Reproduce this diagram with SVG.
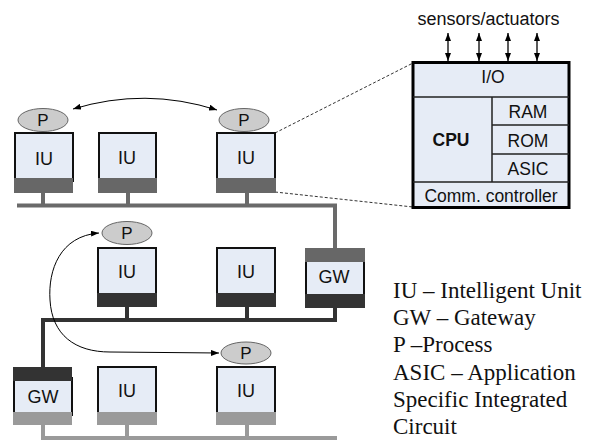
<svg xmlns="http://www.w3.org/2000/svg" width="591" height="441" viewBox="0 0 591 441">
<style>
.lt{fill:#e6ecf6;stroke:#111;stroke-width:2}
.b1{fill:#676767}
.b2{fill:#333}
.b3{fill:#9a9a9a}
.p{fill:#cccccc;stroke:#666;stroke-width:1}
.t{font-family:"Liberation Sans",Arial,sans-serif;font-size:18px;fill:#111;text-anchor:middle}
.pt{font-family:"Liberation Sans",Arial,sans-serif;font-size:17px;fill:#111;text-anchor:middle}
.bx{font-family:"Liberation Sans",Arial,sans-serif;font-size:17.5px;fill:#111;text-anchor:middle}
.lg{font-family:"Liberation Serif","Times New Roman",serif;font-size:23px;fill:#111}
.bus1{stroke:#6a6a6a;stroke-width:4;fill:none}
.bus2{stroke:#333;stroke-width:4;fill:none}
.bus3{stroke:#9a9a9a;stroke-width:4;fill:none}
.arr{stroke:#000;stroke-width:1;fill:none;marker-start:url(#ah);marker-end:url(#ah)}
.sa{stroke:#000;stroke-width:1.3;fill:none;marker-start:url(#ah);marker-end:url(#ah)}
.dash{stroke:#333;stroke-width:1;stroke-dasharray:3,2;fill:none}
.cell{stroke:#222;stroke-width:1.5;fill:none}
</style>
<defs>
<marker id="ah" viewBox="0 0 10 10" refX="10" refY="5" markerWidth="8" markerHeight="6" markerUnits="userSpaceOnUse" preserveAspectRatio="none" orient="auto-start-reverse"><path d="M0,0 L10,5 L0,10 z" fill="#000"/></marker>
</defs>

<g id="connectors">
<path class="bus1" d="M17,205.5 H335 V248 M43,193 V205.5 M128,193 V205.5 M247,193 V205.5"/>
<path class="bus2" d="M335,307 V320 H43 V367 M127,307 V320 M247,307 V320"/>
<path class="bus3" d="M43,425 V438 H337 M127,425 V438 M247,425 V438"/>
<path class="dash" d="M275,133 L413,63 M275,192 L413,207"/>
<path class="arr" d="M73,109 Q145,87 217,110"/>
<path class="arr" d="M99,233 C60,236 48,270 50,300 C52,335 75,352 110,352 L219,353"/>
<path class="sa" d="M448,33 V61"/>
<path class="sa" d="M479,33 V61"/>
<path class="sa" d="M508,33 V61"/>
<path class="sa" d="M537,33 V61"/>
</g>

<g id="p1"><ellipse class="p" cx="43" cy="120" rx="25" ry="11.5"/><text class="pt" x="43" y="126">P</text></g>
<g id="p3"><ellipse class="p" cx="244" cy="120" rx="25" ry="11.5"/><text class="pt" x="244" y="126">P</text></g>
<g id="p2"><ellipse class="p" cx="127" cy="233" rx="25" ry="11.5"/><text class="pt" x="127" y="239">P</text></g>
<g id="p4"><ellipse class="p" cx="246" cy="353" rx="25" ry="11"/><text class="pt" x="246" y="359">P</text></g>

<g id="iu1"><rect class="lt" x="15" y="133" width="58" height="48"/><rect class="b1" x="14" y="178" width="59" height="15"/><text class="t" x="44" y="165">IU</text></g>
<g id="iu2"><rect class="lt" x="99" y="133" width="57" height="48"/><rect class="b1" x="98" y="178" width="59" height="15"/><text class="t" x="127" y="164">IU</text></g>
<g id="iu3"><rect class="lt" x="217" y="133" width="58" height="48"/><rect class="b1" x="216" y="178" width="60" height="15"/><text class="t" x="246" y="164">IU</text></g>

<g id="iu4"><rect class="lt" x="98" y="248" width="58" height="48"/><rect class="b2" x="97" y="293" width="60" height="14"/><text class="t" x="127" y="278">IU</text></g>
<g id="iu5"><rect class="lt" x="217" y="248" width="58" height="48"/><rect class="b2" x="216" y="293" width="60" height="14"/><text class="t" x="246" y="278">IU</text></g>
<g id="gw2"><rect class="lt" x="306" y="258" width="58" height="40"/><rect class="b1" x="305" y="248" width="60" height="14"/><rect class="b2" x="305" y="294" width="60" height="14"/><text class="t" x="334" y="283">GW</text></g>

<g id="gw1"><rect class="lt" x="14" y="378" width="58" height="37"/><rect class="b2" x="13" y="367" width="59" height="14"/><rect class="b3" x="13" y="412" width="59" height="13"/><text class="t" x="43" y="403">GW</text></g>
<g id="iu6"><rect class="lt" x="98" y="367" width="58" height="48"/><rect class="b3" x="97" y="412" width="60" height="13"/><text class="t" x="127" y="397">IU</text></g>
<g id="iu7"><rect class="lt" x="217" y="367" width="58" height="48"/><rect class="b3" x="216" y="412" width="60" height="13"/><text class="t" x="246" y="397">IU</text></g>

<g id="detail">
<rect x="413" y="62.5" width="156" height="145" fill="#e6ecf6" stroke="#000" stroke-width="3"/>
<path class="cell" d="M413,97 H569 M492,97 V182 M492,125 H569 M492,154 H569 M413,182 H569"/>
<text class="bx" x="493" y="83">I/O</text>
<text class="bx" x="451" y="146" font-weight="bold">CPU</text>
<text class="bx" x="528" y="118" font-size="18.5px">RAM</text>
<text class="bx" x="528" y="147" font-size="18.5px">ROM</text>
<text class="bx" x="528" y="175" font-size="18.5px">ASIC</text>
<text class="bx" x="491" y="202" font-size="16.7px">Comm. controller</text>
</g>
<g id="sensors"><text class="t" x="488.5" y="25" font-size="16.5px">sensors/actuators</text></g>

<g id="legend">
<text class="lg" x="393" y="298">IU – Intelligent Unit</text>
<text class="lg" x="393" y="325">GW – Gateway</text>
<text class="lg" x="393" y="352">P –Process</text>
<text class="lg" x="393" y="380">ASIC – Application</text>
<text class="lg" x="393" y="407">Specific Integrated</text>
<text class="lg" x="393" y="434">Circuit</text>
</g>
</svg>
